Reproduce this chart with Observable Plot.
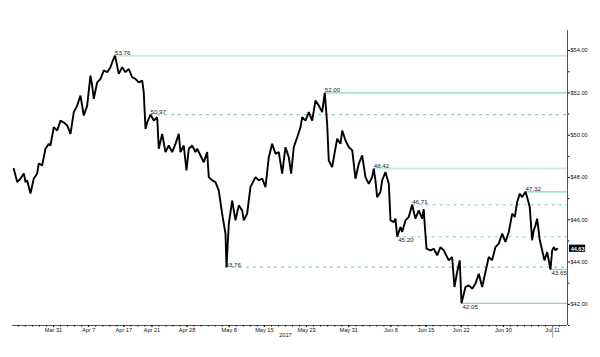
<!DOCTYPE html>
<html><head><meta charset="utf-8">
<script src="https://cdn.jsdelivr.net/npm/d3@7"></script>
<script src="https://cdn.jsdelivr.net/npm/@observablehq/plot@0.6"></script>
<style>body{margin:0;background:#fff}</style>
</head><body><div id="chart"></div>
<script>
// trading-day index (0 = Mar 31, 2017), fractional for intraday readings
const sessions = [-5.65,-5.16,-4.69,-4.22,-3.98,-3.74,-3.27,-2.80,-2.32,-2.09,
-1.61,-1.14,-0.67,-0.43,0.04,0.53,1.00,1.47,1.95,2.42,
2.89,3.37,3.84,4.31,4.79,5.26,5.50,5.73,6.22,6.69,
7.16,7.64,8.11,8.35,8.75,9.29,9.77,10.24,10.71,11.19,
11.66,12.13,12.62,12.84,13.09,13.33,13.80,14.27,14.75,14.98,
15.46,15.93,16.40,16.88,17.35,17.82,18.07,18.53,18.92,19.25,
19.73,20.20,20.44,20.91,21.38,21.86,22.09,22.57,23.04,23.51,
23.99,24.47,24.61,24.94,25.42,25.89,26.36,26.84,27.07,27.55,
28.02,28.73,29.20,29.69,30.16,30.63,31.11,31.58,32.05,32.53,
33.00,33.47,33.81,34.18,34.67,35.14,35.38,35.85,36.32,36.80,
37.27,37.74,38.22,38.59,38.93,39.16,39.64,39.97,40.36,40.83,
41.07,41.54,42.02,42.50,42.96,43.43,43.91,44.38,44.85,45.33,
45.56,45.80,46.04,46.51,46.75,47.23,47.70,47.94,48.41,48.65,
48.89,49.36,49.60,50.07,50.54,51.02,51.49,51.96,52.45,52.67,
52.82,53.06,53.63,54.10,54.58,55.05,55.52,56.23,56.71,57.04,
57.42,57.79,58.04,58.61,59.08,59.56,60.03,60.50,60.98,61.45,
61.92,62.40,62.87,63.34,63.82,64.29,64.77,65.25,65.62,65.96,
66.33,66.67,67.14,67.38,67.75,68.09,68.32,68.56,68.80,69.18,
69.52,69.84,70.23,70.70,70.94,71.17,71.41,71.65];
const prices = [48.41,47.78,47.95,48.19,47.78,47.86,47.24,47.95,48.19,48.66,
48.57,49.36,49.59,49.51,50.38,50.22,50.69,50.60,50.46,50.06,
51.09,51.40,51.87,50.93,51.40,52.82,52.35,51.72,52.50,52.66,
53.06,52.98,53.21,53.45,53.76,52.90,53.21,52.98,53.13,52.74,
52.66,52.50,52.58,52.03,50.30,50.61,50.97,50.69,50.85,49.36,
50.06,49.20,49.51,49.20,49.59,50.06,49.20,49.51,48.33,49.36,
49.51,49.20,49.36,49.04,48.72,49.20,48.02,47.86,47.78,47.39,
46.29,45.34,43.76,45.81,46.91,45.97,46.68,46.44,45.97,46.29,
47.54,48.02,47.86,47.95,47.54,48.96,49.59,49.12,49.20,48.18,
49.43,48.96,48.18,49.43,49.90,50.38,50.85,50.69,51.09,50.69,
51.64,51.40,51.09,52.00,50.54,48.80,48.49,49.12,49.83,49.59,
50.22,49.75,49.43,49.28,47.94,48.65,49.04,48.02,47.70,48.02,
48.42,47.86,47.07,47.31,47.86,48.25,47.70,45.97,45.89,46.05,
45.20,45.65,45.42,45.97,46.13,46.71,46.05,46.44,46.05,46.50,
45.73,44.63,44.55,44.63,44.32,44.71,44.55,44.08,44.24,42.82,
43.53,44.08,42.05,42.82,42.90,42.74,42.98,43.45,42.82,43.53,
44.24,44.08,44.71,44.87,45.34,44.95,45.42,46.29,46.13,46.84,
47.23,47.07,47.32,47.07,46.60,45.03,45.50,45.73,46.05,45.03,
44.55,44.08,44.47,43.65,44.55,44.71,44.55,44.63];

const tickDays = [0,5,10,14,19,25,30,36,42,48,53,58,64,71];
const tickLabels = ["Mar 31","Apr 7","Apr 17","Apr 21","Apr 28","May 8","May 15","May 23","May 31","Jun 8","Jun 15","Jun 22","Jun 30","Jul 11"];
const yTicks = [42,44,46,48,50,52,54];
const yMinorTicks = [41,43,45,47,49,51,53];
const yearLabel = "2017";
const yearBetween = [30, 36];
const lastPrice = 44.63;

const levelValues = [53.76, 52.00, 50.97, 48.42, 47.32, 46.71, 45.20, 43.76, 43.65, 42.05];
const levelStart  = [8.75, 38.59, 13.80, 45.56, 67.14, 51.02, 48.89, 24.47, 70.70, 58.04];
const levelKind   = ["pale","solid","dashed","pale","solid","dashed","dashed","dashed","solid","solid"];
const levelLabelPos = ["above","above","above","above","above","above","below","above","below","below"];

const data = sessions.map((t, i) => ({t, p: prices[i]}));
const levels = levelValues.map((v, i) => ({v, start: levelStart[i], kind: levelKind[i], pos: levelLabelPos[i], label: v.toFixed(2)}));
const XMIN = -5.83, XMAX = 73.12;

const chart = Plot.plot({
  width: 600, height: 357,
  marginLeft: 12, marginRight: 33, marginTop: 30, marginBottom: 32,
  x: {domain: [XMIN, XMAX]},
  y: {domain: [41, 54.95]},
  style: {fontFamily: "'Liberation Sans', Arial, sans-serif", background: "white", color: "#111"},
  marks: [
    Plot.ruleY(levels.filter(d => d.kind === "pale"), {y: "v", x1: "start", x2: XMAX, stroke: "#cfeadf", strokeWidth: 2}),
    Plot.ruleY(levels.filter(d => d.kind === "solid"), {y: "v", x1: "start", x2: XMAX, stroke: "#8ad5b9", strokeWidth: 1.2}),
    Plot.ruleY(levels.filter(d => d.kind === "dashed"), {y: "v", x1: "start", x2: XMAX, stroke: "#7fd0b3", strokeWidth: 1.1, strokeDasharray: "3,4"}),
    Plot.line(data, {x: "t", y: "p", stroke: "#000", strokeWidth: 1.9, strokeLinejoin: "miter"}),
    Plot.text(levels.filter(d => d.pos === "above"), {x: "start", y: "v", text: "label", textAnchor: "start", lineAnchor: "bottom", dy: -0.5, fontSize: 6.2, fill: "#222"}),
    Plot.text(levels.filter(d => d.pos === "below"), {x: "start", y: "v", text: "label", textAnchor: "start", lineAnchor: "top", dy: 1, dx: 1, fontSize: 6.2, fill: "#222"}),
    Plot.ruleX([XMAX], {stroke: "#555", strokeWidth: 1}),
    Plot.ruleY([41], {stroke: "#555", strokeWidth: 1}),
    Plot.axisY({anchor: "right", ticks: yTicks, tickFormat: d => "$" + d.toFixed(2), tickSize: 2, tickPadding: 1, fontSize: 5.6, label: null}),
    Plot.axisY({anchor: "right", ticks: yMinorTicks, tickFormat: () => "", tickSize: 1.5, label: null}),
    Plot.axisX({ticks: tickDays, tickFormat: d => tickLabels[tickDays.indexOf(d)], tickSize: 2, tickPadding: 1, fontSize: 5.6, label: null}),
    Plot.axisX({ticks: d3.range(-5, 73), tickFormat: () => "", tickSize: 1.5, label: null}),
    Plot.text([yearLabel], {x: (yearBetween[0] + yearBetween[1]) / 2, y: 41, dy: 10, text: d => d, fontSize: 5.6, fill: "#111"}),
    Plot.ruleX([tickDays[tickDays.length - 1]], {y1: 40.4, y2: 41, stroke: "#888", strokeWidth: 0.8, clip: false}),
    Plot.rect([lastPrice], {x1: 73.4, x2: 75.7, y1: d => d - 0.17, y2: d => d + 0.17, fill: "#000", clip: false}),
    Plot.text([lastPrice], {x: 74.55, y: d => d, text: d => d.toFixed(2), fill: "white", fontSize: 5.5, fontWeight: "bold", clip: false})
  ]
});
document.getElementById("chart").append(chart);
</script>
</body></html>
